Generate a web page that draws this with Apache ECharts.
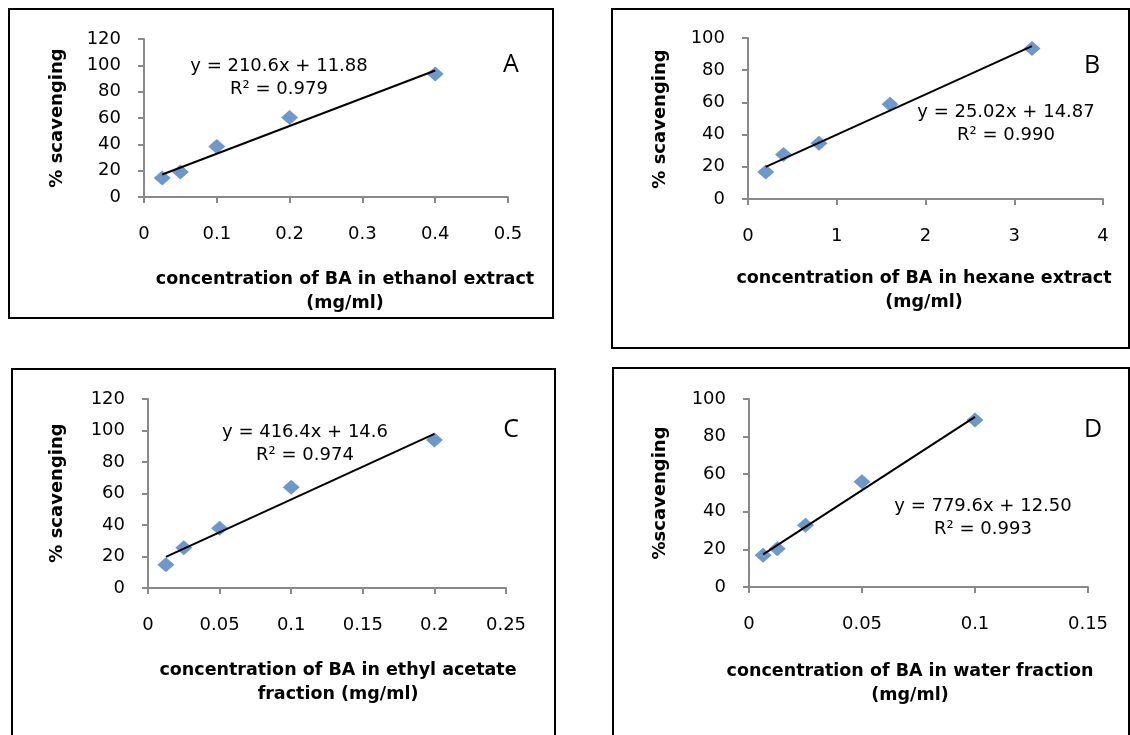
<!DOCTYPE html>
<html>
<head>
<meta charset="utf-8">
<script src="https://cdn.jsdelivr.net/npm/echarts@6/dist/echarts.min.js"></script>
<style>
  html, body { margin: 0; padding: 0; background: #fff; }
  #chart { width: 1130px; height: 735px; }
</style>
</head>
<body>
<div id="chart"></div>
<script>
// concentrations (mg/ml) and % scavenging
var concA = [0.025, 0.05, 0.1, 0.2, 0.4];
var scavA = [14.4, 19, 38.4, 60.4, 93.5];
var trendA = [[0.025, 17.1], [0.4, 96.1]];

var concB = [0.2, 0.4, 0.8, 1.6, 3.2];
var scavB = [16.8, 27.7, 34.6, 58.9, 93.5];
var trendB = [[0.2, 19.9], [3.2, 94.9]];

var concC = [0.0125, 0.025, 0.05, 0.1, 0.2];
var scavC = [14.8, 25.6, 37.9, 63.9, 94];
var trendC = [[0.0125, 19.8], [0.2, 97.9]];

var concD = [0.00625, 0.0125, 0.025, 0.05, 0.1];
var scavD = [16.9, 20.4, 32.9, 56, 88.8];
var trendD = [[0.00625, 17.4], [0.1, 90.5]];

var letters = ["A", "B", "C", "D"];
var equations = [
  "y = 210.6x + 11.88\nR² = 0.979",
  "y = 25.02x + 14.87\nR² = 0.990",
  "y = 416.4x + 14.6\nR² = 0.974",
  "y = 779.6x + 12.50\nR² = 0.993"
];
var xTitles = [
  "concentration of BA in ethanol extract\n(mg/ml)",
  "concentration of BA in hexane extract\n(mg/ml)",
  "concentration of BA in ethyl acetate\nfraction (mg/ml)",
  "concentration of BA in water fraction\n(mg/ml)"
];
var yTitles = ["% scavenging", "% scavenging", "% scavenging", "%scavenging"];
var xMax = [0.5, 4, 0.25, 0.15];
var xStep = [0.1, 1, 0.05, 0.05];
var yMax = [120, 100, 120, 100];

var chartDom = document.getElementById("chart");
var myChart = echarts.init(chartDom);

var axisGray = "#898989";
var FONT = "DejaVu Sans";

function xAxisFor(i) {
  return {
    type: "value",
    gridIndex: i,
    min: 0,
    max: xMax[i],
    interval: xStep[i],
    axisLine: { show: true, onZero: false, lineStyle: { color: axisGray, width: 2 } },
    axisTick: { show: true, length: 6, lineStyle: { color: axisGray, width: 2 } },
    axisLabel: { margin: 28, fontSize: 18, fontFamily: FONT, color: "#000" },
    splitLine: { show: false }
  };
}

function yAxisFor(i) {
  return {
    type: "value",
    gridIndex: i,
    min: 0,
    max: yMax[i],
    interval: 20,
    axisLine: { show: true, onZero: false, lineStyle: { color: axisGray, width: 2 } },
    axisTick: { show: true, length: 6, lineStyle: { color: axisGray, width: 2 } },
    axisLabel: { margin: 23, fontSize: 18, fontFamily: FONT, color: "#000" },
    splitLine: { show: false }
  };
}

function zip(xs, ys) {
  return xs.map(function (x, k) { return [x, ys[k]]; });
}

var points = [zip(concA, scavA), zip(concB, scavB), zip(concC, scavC), zip(concD, scavD)];
var trends = [trendA, trendB, trendC, trendD];

var series = [];
points.forEach(function (pts, i) {
  series.push({
    type: "scatter",
    xAxisIndex: i,
    yAxisIndex: i,
    symbol: "diamond",
    symbolSize: [17, 15],
    itemStyle: { color: "#4a7ebb" },
    data: pts,
    z: 2
  });
  series.push({
    type: "line",
    xAxisIndex: i,
    yAxisIndex: i,
    symbol: "none",
    lineStyle: { color: "#000", width: 2 },
    data: trends[i],
    z: 3
  });
});

// panel boxes and text positions (px)
var boxes = [[9, 9, 544, 309], [612, 9, 517, 339], [12, 369, 543, 372], [613, 368, 516, 373]];
var grids = [
  { left: 144, top: 39, width: 364, height: 158 },
  { left: 748, top: 38, width: 355, height: 161 },
  { left: 148, top: 399, width: 358, height: 189 },
  { left: 749, top: 399, width: 339, height: 188 }
];
var eqPos = [[279, 78], [1006, 124], [305, 444], [983, 518]];
var letterPos = [[511, 65], [1092, 66], [511, 430], [1093, 430]];
var xTitlePos = [[345, 291], [924, 290], [338, 682], [910, 683]];
var yTitlePos = [[57, 118], [660, 119], [57, 493], [660, 493]];

var graphics = [];
boxes.forEach(function (b) {
  graphics.push({
    type: "rect",
    shape: { x: b[0], y: b[1], width: b[2], height: b[3] },
    style: { fill: "none", stroke: "#000", lineWidth: 2 }
  });
});
for (var i = 0; i < 4; i++) {
  graphics.push({
    type: "text", x: eqPos[i][0], y: eqPos[i][1],
    style: { text: equations[i], fontSize: 18, fontFamily: FONT, lineHeight: 23,
      align: "center", verticalAlign: "middle", fill: "#000" }
  });
  graphics.push({
    type: "text", x: letterPos[i][0], y: letterPos[i][1],
    style: { text: letters[i], fontSize: 25, fontFamily: "Open Sans",
      align: "center", verticalAlign: "middle", fill: "#000" }
  });
  graphics.push({
    type: "text", x: xTitlePos[i][0], y: xTitlePos[i][1],
    style: { text: xTitles[i], fontSize: 17.5, fontWeight: "bold", fontFamily: FONT, lineHeight: 24,
      align: "center", verticalAlign: "middle", fill: "#000" }
  });
  graphics.push({
    type: "text", x: yTitlePos[i][0], y: yTitlePos[i][1], rotation: Math.PI / 2,
    style: { text: yTitles[i], fontSize: 18, fontWeight: "bold", fontFamily: FONT,
      align: "center", verticalAlign: "middle", fill: "#000" }
  });
}

var option = {
  backgroundColor: "#fff",
  animation: false,
  grid: grids,
  xAxis: [0, 1, 2, 3].map(xAxisFor),
  yAxis: [0, 1, 2, 3].map(yAxisFor),
  series: series,
  graphic: graphics
};

myChart.setOption(option);
window.addEventListener("resize", function () {
  myChart.resize();
});
</script>
</body>
</html>
